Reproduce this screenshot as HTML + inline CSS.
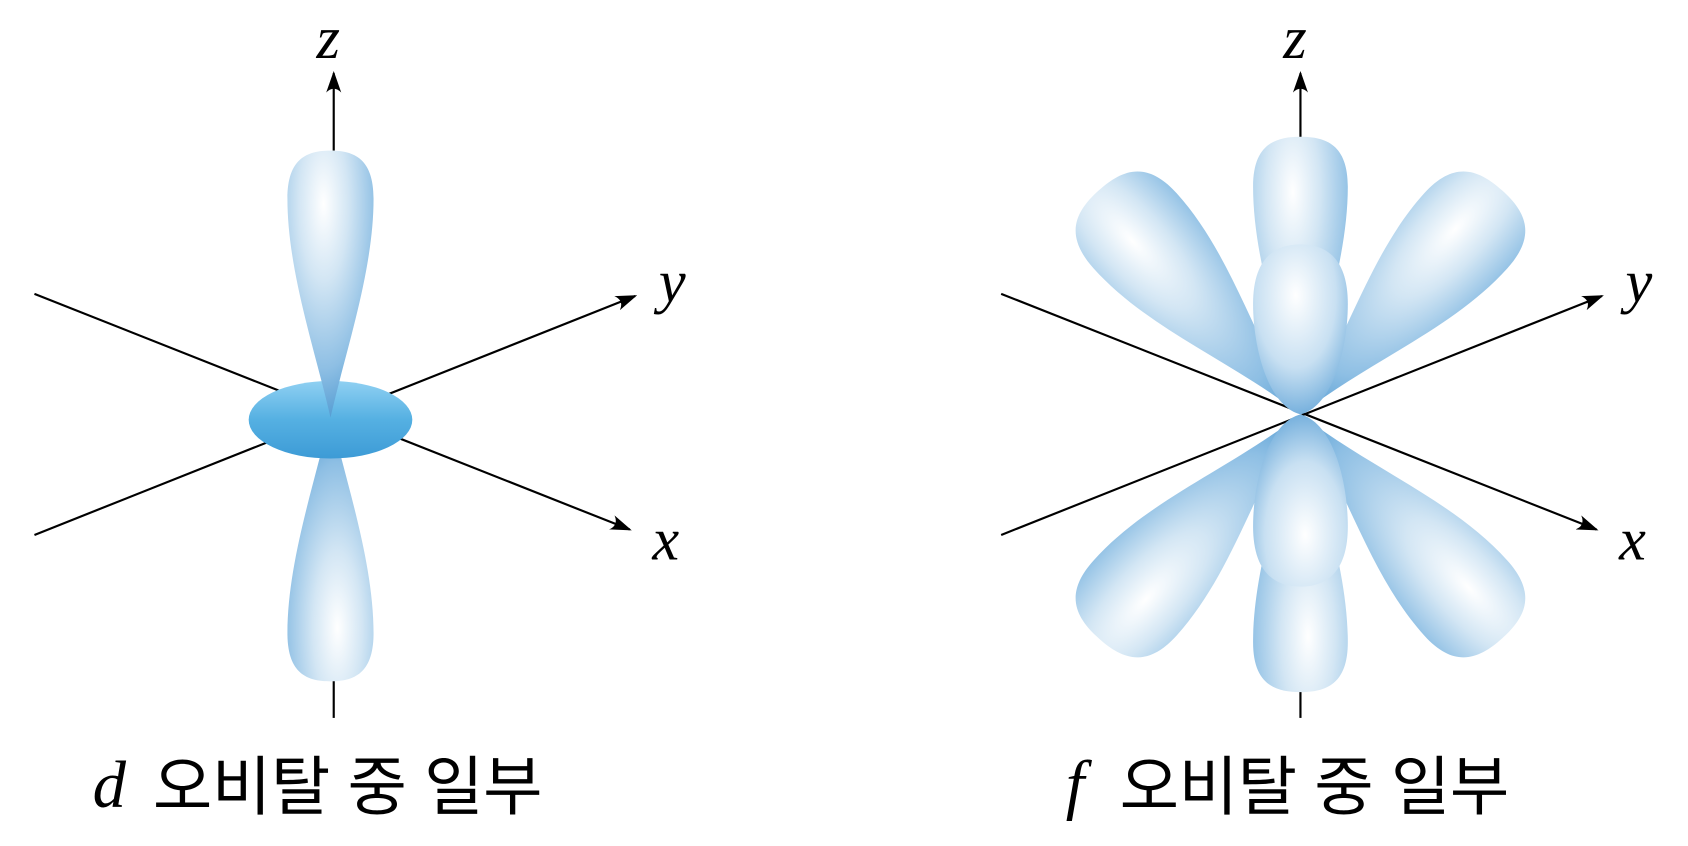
<!DOCTYPE html>
<html><head><meta charset="utf-8"><style>
html,body{margin:0;padding:0;background:#fff;width:1688px;height:846px;overflow:hidden}
svg{display:block}
</style></head><body>
<svg width="1688" height="846" viewBox="0 0 1568 786" preserveAspectRatio="none" xmlns="http://www.w3.org/2000/svg">
<defs>
<radialGradient id="lg" cx="0.42" cy="0.2" r="0.95">
<stop offset="0" stop-color="#ffffff"/>
<stop offset="0.3" stop-color="#d3e6f4"/>
<stop offset="0.65" stop-color="#8ebfe4"/>
<stop offset="1" stop-color="#2a83c6"/>
</radialGradient>
<radialGradient id="fg" cx="0.45" cy="0.3" r="0.85">
<stop offset="0" stop-color="#ffffff"/>
<stop offset="0.5" stop-color="#c8e0f2"/>
<stop offset="1" stop-color="#4b97d2"/>
</radialGradient>
<linearGradient id="disk" x1="0" y1="0" x2="0" y2="1">
<stop offset="0" stop-color="#8fd0f2"/>
<stop offset="0.5" stop-color="#55b0e2"/>
<stop offset="1" stop-color="#3d9bd6"/>
</linearGradient>
<path id="lobe" d="M0,0 C-0.3,-0.3 -1,-0.55 -1,-0.82 C-1,-0.97 -0.55,-1 0,-1 C0.55,-1 1,-0.97 1,-0.82 C1,-0.55 0.3,-0.3 0,0Z"/>
<path id="dl" d="M0,0 C-0.35,-0.25 -1,-0.55 -1,-0.82 C-1,-0.97 -0.55,-1 0,-1 C0.55,-1 1,-0.97 1,-0.82 C1,-0.55 0.35,-0.25 0,0Z"/>
<path id="egg" d="M0,0 C-0.7,-0.05 -1,-0.4 -1,-0.65 C-1,-0.9 -0.6,-1 0,-1 C0.6,-1 1,-0.9 1,-0.65 C1,-0.4 0.7,-0.05 0,0Z"/>
<marker id="ar" viewBox="0 0 20 14" refX="18" refY="7" markerWidth="20" markerHeight="14" markerUnits="userSpaceOnUse" orient="auto">
<path d="M0,0 Q7,7 0,14 L20,7Z" fill="#000"/>
</marker>
</defs>
<g stroke="#000" stroke-width="2" fill="none">
<line x1="32" y1="497" x2="590" y2="275" marker-end="url(#ar)"/>
<line x1="32" y1="273" x2="585" y2="492" marker-end="url(#ar)"/>
<line x1="310" y1="140" x2="310" y2="68" marker-end="url(#ar)"/>
<line x1="310" y1="630" x2="310" y2="667"/>
</g>
<use href="#dl" fill="url(#lg)" transform="translate(307,385) rotate(180) scale(40,248)"/>
<ellipse cx="307" cy="390" rx="76" ry="36" fill="url(#disk)"/>
<use href="#dl" fill="url(#lg)" transform="translate(307,388) scale(40,248)"/>

<g fill="url(#lg)">
<use href="#lobe" transform="translate(1208,385) rotate(-42) scale(52,280)"/>
<use href="#lobe" transform="translate(1208,385) rotate(42) scale(52,280)"/>
<use href="#lobe" transform="translate(1208,385) rotate(138) scale(52,280)"/>
<use href="#lobe" transform="translate(1208,385) rotate(-138) scale(52,280)"/>
</g>
<g stroke="#000" stroke-width="2" fill="none">
<line x1="930" y1="497" x2="1488" y2="275" marker-end="url(#ar)"/>
<line x1="930" y1="273" x2="1483" y2="492" marker-end="url(#ar)"/>
<line x1="1208" y1="128" x2="1208" y2="68" marker-end="url(#ar)"/>
<line x1="1208" y1="640" x2="1208" y2="667"/>
</g>
<g fill="url(#lg)">
<use href="#dl" transform="translate(1208,385) scale(44,258)"/>
<use href="#dl" transform="translate(1208,385) rotate(180) scale(44,258)"/>
</g>
<g fill="url(#fg)">
<use href="#egg" transform="translate(1208,385) scale(44,158)"/>
<use href="#egg" transform="translate(1208,385) rotate(180) scale(44,160)"/>
</g>

<g font-family="'Liberation Serif',serif" font-style="italic" font-size="56" fill="#000">
<text x="294" y="54">z</text>
<text x="612" y="280">y</text>
<text x="606" y="520">x</text>
<text x="1192" y="54">z</text>
<text x="1510" y="280">y</text>
<text x="1504" y="520">x</text>
<text x="86" y="750" font-size="62">d</text>
<text x="990" y="750" font-size="62">f</text>
</g>
<g font-family="'Liberation Sans','Noto Sans CJK KR',sans-serif" font-size="60" fill="#000">
<text x="142" y="752" textLength="362">오비탈 중 일부</text>
<text x="1040" y="752" textLength="362">오비탈 중 일부</text>
</g>
</svg>
</body></html>
